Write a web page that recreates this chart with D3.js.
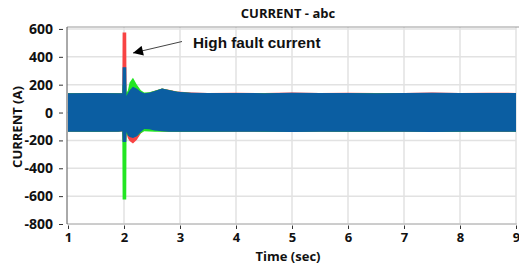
<!DOCTYPE html>
<html>
<head>
<meta charset="utf-8">
<script src="https://cdn.jsdelivr.net/npm/d3@7"></script>
<style>
body{margin:0;background:#fff;}
text{font-family:"Open Sans",sans-serif;font-weight:bold;fill:#111;}
</style>
</head>
<body>
<div id="chart"></div>
<script>
// envelope of each phase current (A)
var times=[1,1.5,1.9,1.97,1.975,2.04,2.045,2.07,2.1,2.16,2.23,2.3,2.36,2.45,2.55,2.68,2.8,2.95,3.2,3.5,4,4.5,5,5.5,6,6.5,7,7.5,8,8.5,9];
var redHi=[140,141,140,139,575,575,142,145,150,150,150,148,139,143,156,173,163,151,143,141,142,140,143,141,142,140,141,143,141,142,141];
var redLo=[-138,-139,-138,-136,-200,-200,-150,-185,-205,-222,-195,-150,-128,-126,-130,-136,-138,-139,-139,-139,-138,-139,-140,-138,-139,-139,-138,-140,-139,-138,-139];
var greenHi=[138,139,138,137,200,200,140,160,215,249,200,160,143,146,157,172,161,149,141,139,140,138,141,139,140,138,139,141,139,140,139];
var greenLo=[-136,-137,-136,-134,-625,-625,-150,-165,-172,-178,-168,-148,-135,-136,-138,-138,-137,-138,-138,-137,-136,-137,-138,-136,-137,-137,-136,-138,-137,-136,-137];
var blueHi=[139,140,139,138,325,325,118,140,160,186,170,150,138,142,155,172,162,150,142,140,141,139,142,140,141,139,140,142,140,141,140];
var blueLo=[-137,-138,-137,-135,-211,-211,-140,-165,-175,-182,-170,-140,-118,-120,-128,-135,-137,-138,-138,-138,-137,-138,-139,-137,-138,-138,-137,-139,-138,-137,-138];
var xTicks=[1,2,3,4,5,6,7,8,9];
var yTicks=[-800,-600,-400,-200,0,200,400,600];

var w=519;
var h=268;
var svg=d3.select("#chart")
  .append("svg")
  .attr("width",w)
  .attr("height",h);

var x=d3.scaleLinear().domain([1,9]).range([68,516]);
var y=d3.scaleLinear().domain([-800,614]).range([224,27]);

// grid
svg.selectAll(".gx").data(xTicks.slice(1)).enter().append("line")
  .attr("x1",function(d){return x(d);}).attr("x2",function(d){return x(d);})
  .attr("y1",27).attr("y2",224)
  .style("stroke","#e2e2e2").style("stroke-width",1.5);
svg.selectAll(".gy").data(yTicks).enter().append("line")
  .attr("x1",67).attr("x2",516)
  .attr("y1",function(d){return y(d);}).attr("y2",function(d){return y(d);})
  .style("stroke","#e2e2e2").style("stroke-width",1.5);

svg.append("clipPath").attr("id","clip").append("rect")
  .attr("x",67).attr("y",27).attr("width",450).attr("height",197);

var series=[
  {hi:redHi,lo:redLo,color:"#f84343"},
  {hi:greenHi,lo:greenLo,color:"#22e622"},
  {hi:blueHi,lo:blueLo,color:"#0b5ea2"}
];
var area=d3.area()
  .x(function(d){return x(d.t);})
  .y0(function(d){return y(d.lo);})
  .y1(function(d){return y(d.hi);});
svg.append("g").attr("clip-path","url(#clip)")
  .selectAll("path").data(series).enter().append("path")
  .attr("d",function(s){
    return area(times.map(function(t,i){return {t:t,hi:s.hi[i],lo:s.lo[i]};}));
  })
  .style("fill",function(s){return s.color;});

// frame lines
svg.append("line").attr("x1",67).attr("x2",519).attr("y1",27).attr("y2",27)
  .style("stroke","#9a9a9a").style("stroke-width",1);
svg.append("line").attr("x1",67).attr("x2",517).attr("y1",224).attr("y2",224)
  .style("stroke","#b0b0b0").style("stroke-width",1);
svg.append("line").attr("x1",67).attr("x2",67).attr("y1",27).attr("y2",224)
  .style("stroke","#555").style("stroke-width",1);

// axes
var yAxis=d3.axisLeft(y).tickValues(yTicks).tickSize(4).tickPadding(6)
  .tickFormat(function(d){return String(d);});
var gy=svg.append("g").attr("transform","translate(63,0)").call(yAxis);
gy.select(".domain").remove();
gy.selectAll("line").style("stroke","#333");
gy.selectAll("text").style("font-size","14px").style("fill","#111");

var xAxis=d3.axisBottom(x).tickValues(xTicks).tickSize(3.5).tickPadding(4)
  .tickFormat(function(d){return String(d);});
var gx=svg.append("g").attr("transform","translate(0,225.5)").call(xAxis);
gx.select(".domain").remove();
gx.selectAll("line").style("stroke","#333");
gx.selectAll("text").style("font-size","13px").style("fill","#111");

// titles
svg.append("text").attr("x",288).attr("y",18).attr("text-anchor","middle")
  .style("font-size","13px").text("CURRENT - abc");
svg.append("text").attr("x",288).attr("y",261).attr("text-anchor","middle")
  .style("font-size","13px").text("Time (sec)");
svg.append("text").attr("transform","translate(22,127) rotate(-90)").attr("text-anchor","middle")
  .style("font-size","13px").text("CURRENT (A)");

// annotation
svg.append("defs").append("marker").attr("id","arr")
  .attr("viewBox","0 0 10 10").attr("refX",10).attr("refY",5)
  .attr("markerWidth",13).attr("markerHeight",10).attr("markerUnits","userSpaceOnUse")
  .attr("orient","auto")
  .append("path").attr("d","M0,0L10,5L0,10Z").style("fill","#000");
svg.append("line").attr("x1",182).attr("y1",41.5).attr("x2",133).attr("y2",53)
  .style("stroke","#444").style("stroke-width",1).attr("marker-end","url(#arr)");
svg.append("text").attr("x",193).attr("y",48)
  .style("font-family","'Liberation Sans',Arial,sans-serif").style("font-size","15.3px")
  .text("High fault current");
</script>
</body>
</html>
